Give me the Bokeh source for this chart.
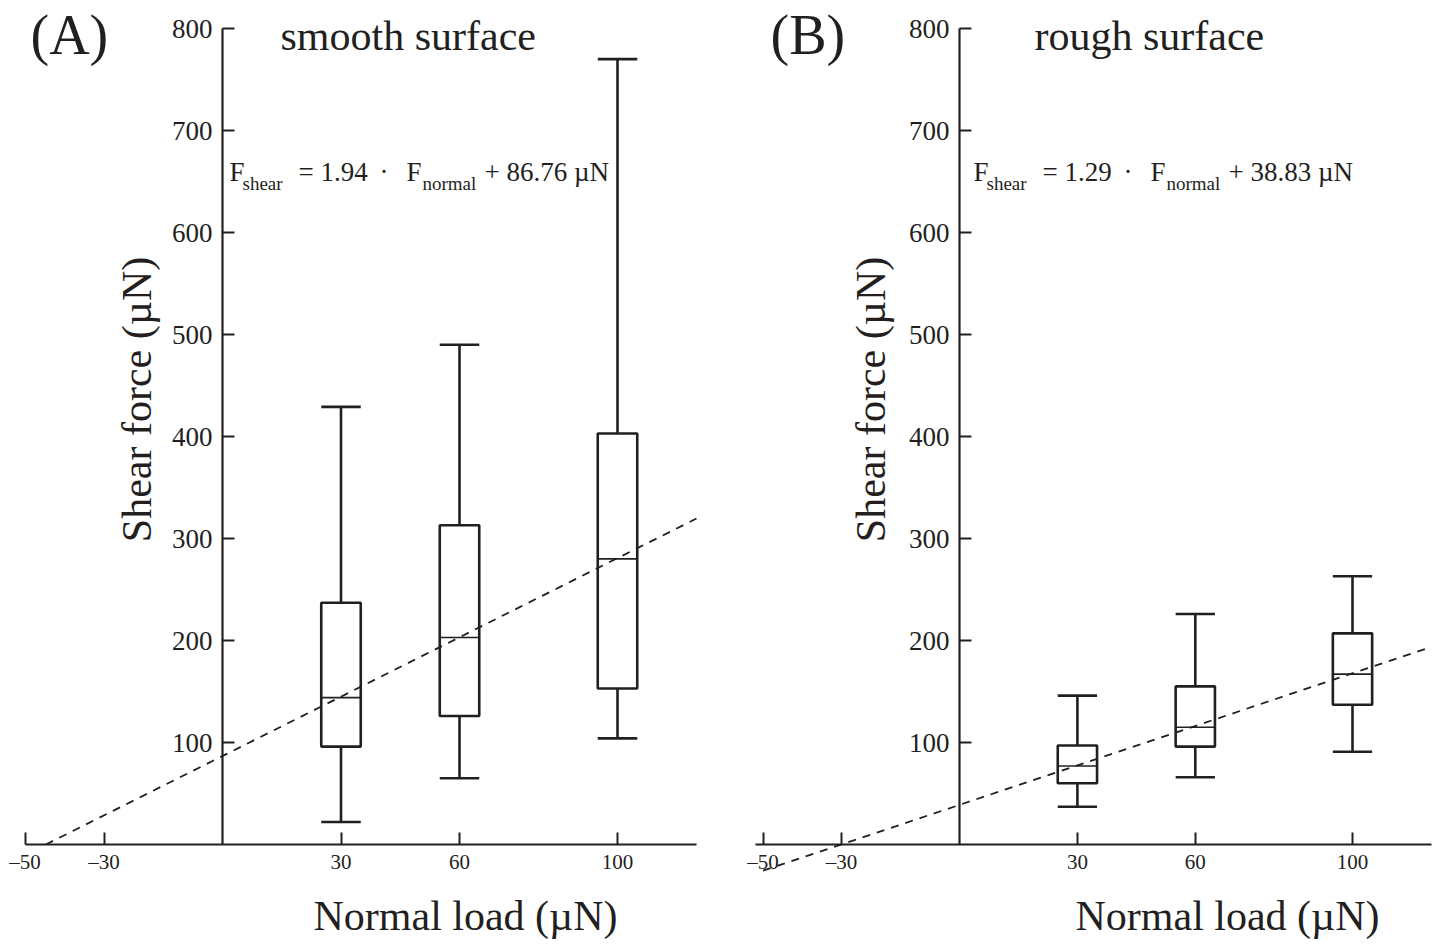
import numpy as np
from bokeh.plotting import figure
from bokeh.layouts import row
from bokeh.models import Range1d, FixedTicker, ColumnDataSource
from bokeh.embed import file_html
from bokeh.resources import INLINE
from bokeh.core.properties import value

# ---------------- data ----------------
loads = [30, 60, 100]

smooth_low = [22, 65, 104]
smooth_q1 = [96, 126, 153]
smooth_med = [144, 203, 280]
smooth_q3 = [237, 313, 403]
smooth_high = [429, 490, 770]

rough_low = [37, 66, 91]
rough_q1 = [60, 96, 137]
rough_med = [77, 115, 167]
rough_q3 = [97, 155, 207]
rough_high = [146, 226, 263]

smooth_slope, smooth_icpt = 1.94, 86.76
rough_slope, rough_icpt = 1.29, 38.83
smooth_fit_x = [-44.72, 120]
rough_fit_x = [-50, 120]

x_ticks = [-50, -30, 30, 60, 100]
y_ticks = [100, 200, 300, 400, 500, 600, 700, 800]

# ---------------- style / layout ----------------
FONT = "Liberation Serif"
INK = "#231f20"
W, H = 716, 940
SY = 1.02        # px per unit on y
Y0_PX = 844      # image y of y=0
BOX_W = 10
BL = 0.36        # baseline compensation (fraction of font size)


def panel(tag, title, coef_txt, low, q1, med, q3, high, slope, icpt, fit_x,
          left, x0_px, sx, axis_start, off):
    x_start = (left - x0_px) / sx
    x_end = (left + W - x0_px) / sx
    y_start = (Y0_PX - H) / SY
    y_end = Y0_PX / SY
    X = lambda px: (px - x0_px) / sx
    Y = lambda py: (Y0_PX - py) / SY

    p = figure(width=W, height=H, x_range=Range1d(x_start, x_end),
               y_range=Range1d(y_start, y_end), output_backend="svg",
               toolbar_location=None, min_border=0)
    p.min_border_left = p.min_border_right = 0
    p.min_border_top = p.min_border_bottom = 0
    p.outline_line_color = None
    p.xgrid.visible = False
    p.ygrid.visible = False
    p.background_fill_color = "white"
    p.border_fill_color = "white"

    xa = p.xaxis[0]
    xa.fixed_location = 0
    xa.ticker = FixedTicker(ticks=x_ticks)
    xa.bounds = (axis_start, 120)
    xa.major_tick_in = 12
    xa.major_tick_out = 0
    xa.minor_tick_line_color = None
    xa.axis_line_width = 2.2
    xa.axis_line_color = INK
    xa.major_tick_line_width = 2
    xa.major_tick_line_color = INK
    xa.major_label_text_font = FONT
    xa.major_label_text_font_size = "21px"
    xa.major_label_text_color = INK
    xa.major_label_standoff = 5
    xa.major_label_overrides = {-50: "\u201350", -30: "\u201330"}

    ya = p.yaxis[0]
    ya.fixed_location = 0
    ya.ticker = FixedTicker(ticks=y_ticks)
    ya.bounds = (0, 800)
    ya.major_tick_in = 12
    ya.major_tick_out = 0
    ya.minor_tick_line_color = None
    ya.axis_line_width = 2.2
    ya.axis_line_color = INK
    ya.major_tick_line_width = 2
    ya.major_tick_line_color = INK
    ya.major_label_text_font = FONT
    ya.major_label_text_font_size = "27px"
    ya.major_label_text_color = INK
    ya.major_label_standoff = 10

    # fit line
    fx = np.array(fit_x, dtype=float)
    p.line(fx, slope * fx + icpt, line_color=INK, line_width=1.8,
           line_dash="8 7")

    # box plots
    lx = np.array(loads, dtype=float)
    src = ColumnDataSource(dict(x=lx, left=lx - BOX_W / 2, right=lx + BOX_W / 2,
                                low=low, q1=q1, med=med, q3=q3, high=high))
    lw = 2.6
    p.segment(x0="x", y0="q3", x1="x", y1="high", source=src,
              line_color=INK, line_width=lw)
    p.segment(x0="x", y0="low", x1="x", y1="q1", source=src,
              line_color=INK, line_width=lw)
    p.segment(x0="left", y0="high", x1="right", y1="high", source=src,
              line_color=INK, line_width=lw)
    p.segment(x0="left", y0="low", x1="right", y1="low", source=src,
              line_color=INK, line_width=lw)
    p.quad(left="left", right="right", bottom="q1", top="q3", source=src,
           fill_color=None, line_color=INK, line_width=lw)
    p.segment(x0="left", y0="med", x1="right", y1="med", source=src,
              line_color=INK, line_width=1.6)

    def txt(px, py, s, size, align="left", angle=0.0):
        fs = float(size.replace("px", ""))
        if angle == 0.0:
            py = py - BL * fs
        else:
            px = px - BL * fs
        p.text(x=[X(px)], y=[Y(py)], text=[s], text_font=value(FONT),
               text_font_size=size, text_color=INK, text_align=align,
               text_baseline="alphabetic", angle=angle)

    # panel tag and title
    txt(off["tag"], 55, tag, "56px")
    txt(off["title"], 51, title, "42px")

    # axis labels
    txt(off["ylab"], 399, "Shear force (\u00b5N)", "42px", align="center",
        angle=np.pi / 2)
    txt(off["xlab"], 931, "Normal load (\u00b5N)", "42px")

    # equation
    e0 = off["eq"]
    base, sub = 181, 190
    txt(e0, base, "F", "27px")
    txt(e0 + 13, sub, "shear", "19px")
    txt(e0 + 69, base, "=", "27px")
    txt(e0 + 91, base, coef_txt[0], "27px")
    txt(e0 + 150, base, "\u00b7", "27px")
    txt(e0 + 177, base, "F", "27px")
    txt(e0 + 193, sub, "normal", "19px")
    txt(e0 + 255, base, "+ " + coef_txt[1] + " \u00b5N", "27px")
    return p


pa = panel("(A)", "smooth surface", (f"{smooth_slope:.2f}", f"{smooth_icpt:.2f}"),
           smooth_low, smooth_q1, smooth_med, smooth_q3, smooth_high,
           smooth_slope, smooth_icpt, smooth_fit_x,
           left=0, x0_px=222, sx=3.95, axis_start=-50,
           off=dict(tag=30, title=280, ylab=152, xlab=313, eq=229))
pb = panel("(B)", "rough surface", (f"{rough_slope:.2f}", f"{rough_icpt:.2f}"),
           rough_low, rough_q1, rough_med, rough_q3, rough_high,
           rough_slope, rough_icpt, rough_fit_x,
           left=716, x0_px=959, sx=3.93, axis_start=-52,
           off=dict(tag=770, title=1034, ylab=886, xlab=1075, eq=973))

layout = row(pa, pb, spacing=0)
open("out.html", "w").write(file_html(layout, INLINE))
